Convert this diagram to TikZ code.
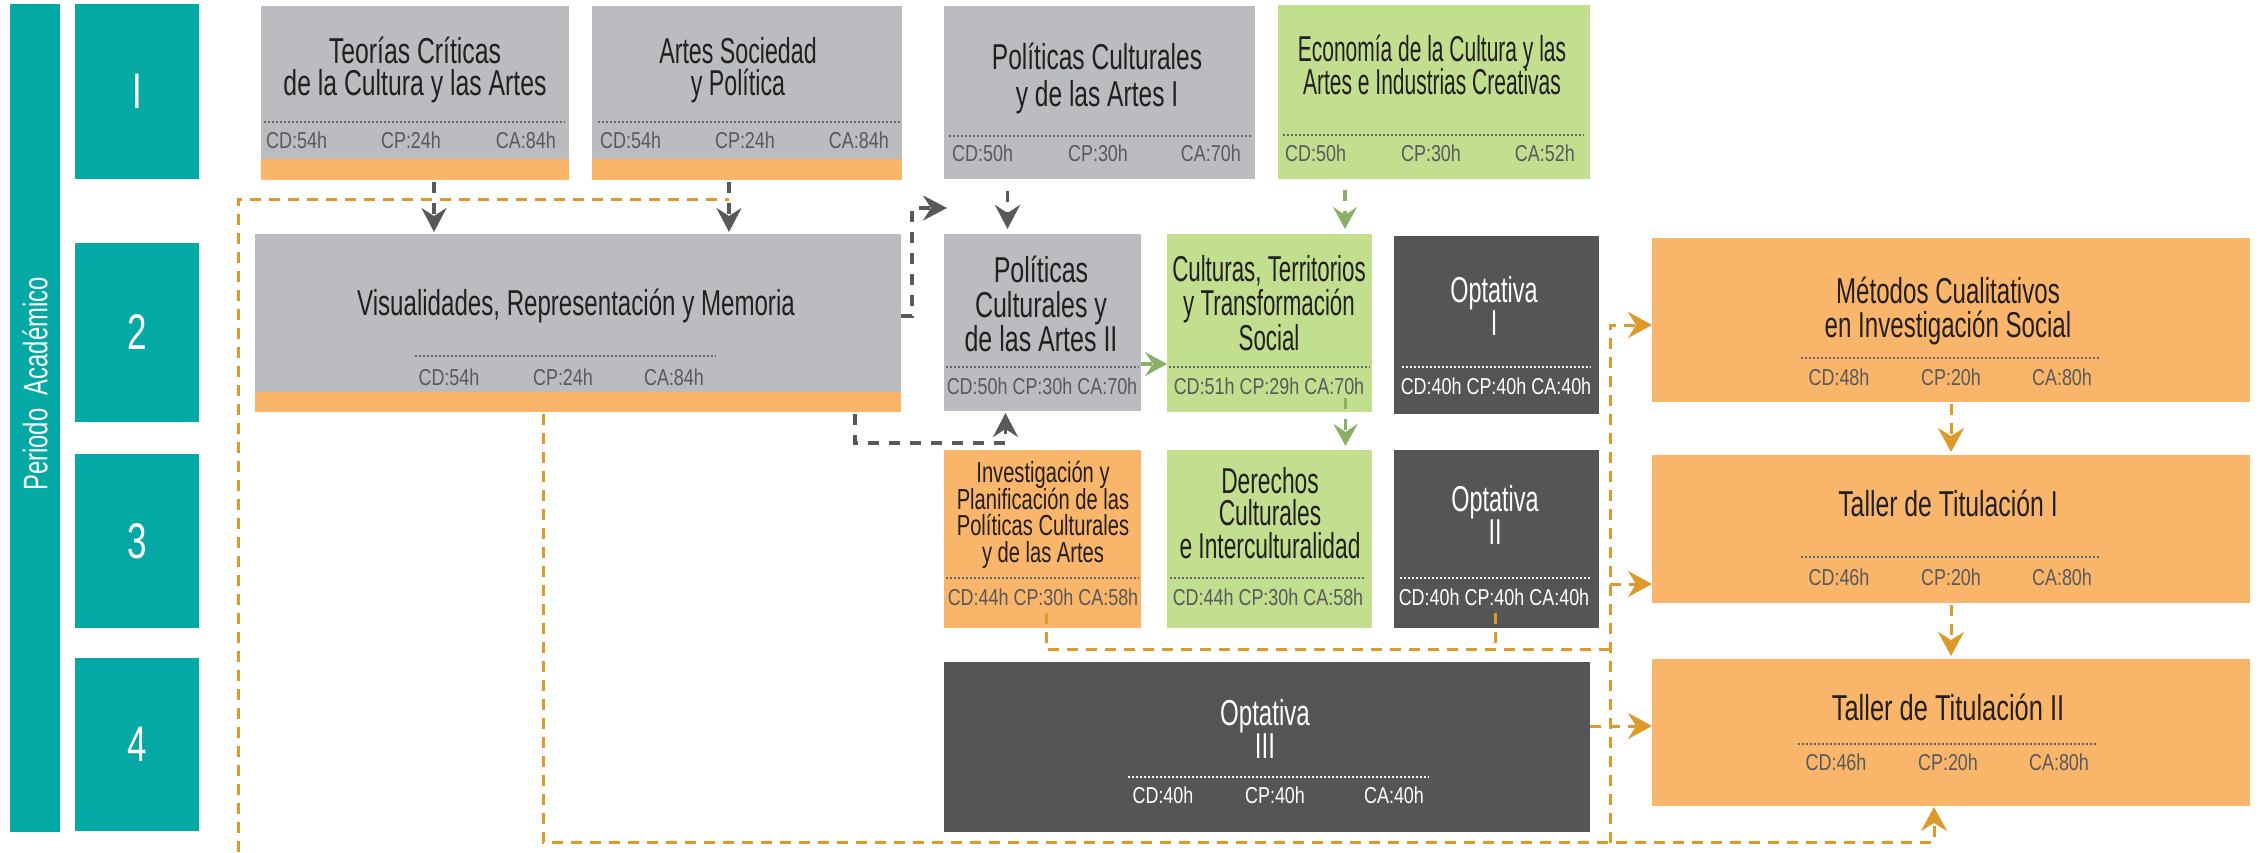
\documentclass[tikz,border=0pt]{standalone}
\usepackage{graphicx}
\usepackage{fontspec}
\setmainfont{Liberation Sans}
\newfontfamily\tfont[FakeStretch=0.62]{Liberation Sans}
\newfontfamily\nfont[FakeStretch=0.70]{Liberation Sans}
\newfontfamily\cdfont[FakeStretch=0.78]{Liberation Sans}
\newcommand\hsc[2]{\scalebox{#1}[1]{\vbox{\lineskiplimit=-200pt\relax\let\\\cr\halign{\hfil##\hfil\cr#2\crcr}}}}
\usetikzlibrary{arrows.meta,calc}
\definecolor{cteal}{RGB}{4,169,166}
\definecolor{cgray}{RGB}{187,188,192}
\definecolor{corange}{RGB}{249,181,106}
\definecolor{cgreen}{RGB}{194,222,143}
\definecolor{cdark}{RGB}{84,85,87}
\definecolor{cline}{RGB}{221,154,42}
\definecolor{carr}{RGB}{88,89,91}
\definecolor{cgrarr}{RGB}{139,175,102}
\definecolor{ctext}{RGB}{35,31,32}
\definecolor{ccd}{RGB}{88,89,91}
\definecolor{cdot}{RGB}{100,101,104}
\begin{document}
\begin{tikzpicture}[x=1pt,y=-1pt,
  bx/.style={rectangle, inner sep=0pt, outer sep=0pt, anchor=north west, draw=none},
  ttl/.style={font=\tfont\fontsize{36}{32.5}\selectfont, text=ctext, inner sep=0pt},
  ttlm/.style={font=\tfont\fontsize{36}{34.5}\selectfont, text=ctext, inner sep=0pt},
  ttlb/.style={font=\tfont\fontsize{36}{37}\selectfont, text=ctext, inner sep=0pt},
  ttls/.style={font=\tfont\fontsize{29}{26.5}\selectfont, text=ctext, inner sep=0pt},
  ttlw/.style={ttl, text=white},
  num/.style={font=\nfont\fontsize{50}{50}\selectfont, text=white, inner sep=0pt},
  cdt/.style={font=\cdfont\fontsize{23}{24}\selectfont, text=ccd, inner sep=0pt},
  cdw/.style={cdt, text=white},
  dotl/.style={draw=cdot, line width=2pt, dash pattern=on 2pt off 2pt},
  dotw/.style={dotl, draw=white},
  odash/.style={draw=cline, line width=3pt, dash pattern=on 11pt off 8pt},
  oarr/.style={odash, -{Stealth[length=24pt,width=26pt,inset=8pt]}},
  garr/.style={draw=carr, line width=3.5pt, dash pattern=on 11pt off 10pt, -{Stealth[length=24pt,width=25pt,inset=8pt]}},
  grarr/.style={draw=cgrarr, line width=3.5pt, dash pattern=on 11pt off 10pt, -{Stealth[length=22pt,width=24pt,inset=8pt]}}
]
\useasboundingbox (0,0) rectangle (2259,852);

% period column
\node[bx, fill=cteal, minimum width=50pt, minimum height=828pt] (bar) at (10,4) {};
\node[rotate=90, font=\nfont\fontsize{34}{34}\selectfont, text=white, inner sep=0pt] at (bar.center |- 0,384) {Periodo\hspace{0.4em}Académico};
\node[bx, fill=cteal, minimum width=124pt, minimum height=175pt] (n1) at (75,4) {};
\node[bx, fill=cteal, minimum width=124pt, minimum height=179pt] (n2) at (75,243) {};
\node[bx, fill=cteal, minimum width=124pt, minimum height=174pt] (n3) at (75,454) {};
\node[bx, fill=cteal, minimum width=124pt, minimum height=173pt] (n4) at (75,658) {};
\node[num] at (n1) {I};
\node[num] at (n2) {2};
\node[num] at (n3) {3};
\node[num] at (n4) {4};

% boxes
\node[bx, fill=cgray, minimum width=308pt, minimum height=174pt] (teo) at (261,6) {};
\node[bx, fill=cgray, minimum width=310pt, minimum height=174pt] (art) at (592,6) {};
\node[bx, fill=cgray, minimum width=311pt, minimum height=173pt] (pol1) at (944,6) {};
\node[bx, fill=cgreen, minimum width=312pt, minimum height=174pt] (eco) at (1278,5) {};
\node[bx, fill=cgray, minimum width=646pt, minimum height=178pt] (vis) at (255,234) {};
\node[bx, fill=cgray, minimum width=197pt, minimum height=177pt] (pol2) at (944,234) {};
\node[bx, fill=cgreen, minimum width=205pt, minimum height=178pt] (cul) at (1167,234) {};
\node[bx, fill=cdark, minimum width=205pt, minimum height=178pt] (opt1) at (1394,236) {};
\node[bx, fill=corange, minimum width=598pt, minimum height=164pt] (met) at (1652,238) {};
\node[bx, fill=corange, minimum width=197pt, minimum height=178pt] (inv) at (944,450) {};
\node[bx, fill=cgreen, minimum width=205pt, minimum height=178pt] (der) at (1167,450) {};
\node[bx, fill=cdark, minimum width=205pt, minimum height=178pt] (opt2) at (1394,450) {};
\node[bx, fill=cdark, minimum width=646pt, minimum height=170pt] (opt3) at (944,662) {};
\node[bx, fill=corange, minimum width=598pt, minimum height=148pt] (tal1) at (1652,455) {};
\node[bx, fill=corange, minimum width=598pt, minimum height=147pt] (tal2) at (1652,659) {};

% orange strips
\fill[corange] (teo.south west) rectangle ($(teo.south east)+(0,-21)$);
\fill[corange] (art.south west) rectangle ($(art.south east)+(0,-21)$);
\fill[corange] (vis.south west) rectangle ($(vis.south east)+(0,-20)$);

% titles
\node[ttl] at (415,70) {\hsc{1.11}{Teorías Críticas\\de la Cultura y las Artes}};
\node[ttl] at (738,70) {\hsc{1.04}{Artes Sociedad\\y Política}};
\node[ttlb] at (1097,78) {\hsc{1.10}{Políticas Culturales\\y de las Artes I}};
\node[ttl] at (1432,65) {\hsc{0.94}{Economía de la Cultura y las\\Artes e Industrias Creativas}};
\node[ttl] at (576,306) {\hsc{1.08}{Visualidades, Representación y Memoria}};
\node[ttlm] at (1041,304) {\hsc{1.12}{Políticas\\Culturales y\\de las Artes II}};
\node[ttlm] at (1269,303) {\hsc{1.0}{Culturas, Territorios\\y Transformación\\Social}};
\node[ttlw] at (1494,306) {\hsc{1.05}{Optativa\\I}};
\node[ttlm] at (1948,311) {\hsc{1.08}{Métodos Cualitativos\\en Investigación Social}};
\node[ttls] at (1043,515) {\hsc{1.12}{Investigación y\\Planificación de las\\Políticas Culturales\\y de las Artes}};
\node[ttl] at (1270,513) {\hsc{1.02}{Derechos\\Culturales\\e Interculturalidad}};
\node[ttlw] at (1495,515) {\hsc{1.05}{Optativa\\II}};
\node[ttlw] at (1265,729) {\hsc{1.08}{Optativa\\III}};
\node[ttl] at (1948,503) {\hsc{1.11}{Taller de Titulación I}};
\node[ttl] at (1948,707) {\hsc{1.14}{Taller de Titulación II}};

% dotted rules
\draw[dotl] (264,122) -- (565,122);
\draw[dotl] (598,122) -- (900,122);
\draw[dotl] (949,136) -- (1251,136);
\draw[dotl] (1283,135) -- (1584,135);
\draw[dotl] (415,356) -- (716,356);
\draw[dotl] (946,367) -- (1139,367);
\draw[dotl] (1169,367) -- (1370,367);
\draw[dotw] (1402,367) -- (1591,367);
\draw[dotl] (1801,358) -- (2099,358);
\draw[dotl] (946,578) -- (1139,578);
\draw[dotl] (1170,578) -- (1366,578);
\draw[dotw] (1400,578) -- (1590,578);
\draw[dotw] (1128,777) -- (1429,777);
\draw[dotl] (1801,557) -- (2099,557);
\draw[dotl] (1798,744) -- (2096,744);

% hours
\node[cdt, anchor=west] at (266,140) {CD:54h};
\node[cdt] at (411,140) {CP:24h};
\node[cdt, anchor=east] at (556,140) {CA:84h};
\node[cdt, anchor=west] at (600,140) {CD:54h};
\node[cdt] at (745,140) {CP:24h};
\node[cdt, anchor=east] at (889,140) {CA:84h};
\node[cdt, anchor=west] at (952,153) {CD:50h};
\node[cdt] at (1098,153) {CP:30h};
\node[cdt, anchor=east] at (1241,153) {CA:70h};
\node[cdt, anchor=west] at (1285,153) {CD:50h};
\node[cdt] at (1431,153) {CP:30h};
\node[cdt, anchor=east] at (1575,153) {CA:52h};
\node[cdt] at (449,377) {CD:54h};
\node[cdt] at (563,377) {CP:24h};
\node[cdt] at (674,377) {CA:84h};
\node[cdt] at (1042,386) {CD:50h CP:30h CA:70h};
\node[cdt] at (1269,386) {CD:51h CP:29h CA:70h};
\node[cdw] at (1496,386) {CD:40h CP:40h CA:40h};
\node[cdt] at (1839,377) {CD:48h};
\node[cdt] at (1951,377) {CP:20h};
\node[cdt] at (2062,377) {CA:80h};
\node[cdt] at (1043,597) {CD:44h CP:30h CA:58h};
\node[cdt] at (1268,597) {CD:44h CP:30h CA:58h};
\node[cdw] at (1494,597) {CD:40h CP:40h CA:40h};
\node[cdw] at (1163,795) {CD:40h};
\node[cdw] at (1275,795) {CP:40h};
\node[cdw] at (1394,795) {CA:40h};
\node[cdt] at (1839,577) {CD:46h};
\node[cdt] at (1951,577) {CP:20h};
\node[cdt] at (2062,577) {CA:80h};
\node[cdt] at (1836,762) {CD:46h};
\node[cdt] at (1948,762) {CP:20h};
\node[cdt] at (2059,762) {CA:80h};

% connector anchor points
\coordinate (t1) at ($(teo.south)+(19,2)$);
\coordinate (a1) at ($(art.south)+(-18,2)$);
\coordinate (p1) at ($(pol1.south)+(-92,12)$);
\coordinate (vr) at (947,208);
\coordinate (v2) at ($(vis.south)+(277,2)$);
\coordinate (v2top) at ($(pol2.south)+(-37,0)$);
\coordinate (e1) at ($(eco.south)+(-89,11)$);
\coordinate (pc) at ($(pol2.east)+(0,41.5)$);
\coordinate (cd) at ($(cul.south)+(76,-14)$);
\coordinate (lb) at (238,852);
\coordinate (lt) at (238,199);
\coordinate (vo) at ($(vis.south)+(-35,2)$);
\coordinate (t2b) at ($(tal2.south)+(-17,0)$);
\coordinate (iv) at ($(inv.south)+(3.5,-15)$);
\coordinate (o2) at ($(opt2.south)+(-1.5,-15)$);
\coordinate (j1) at (1610,649);
\coordinate (tr) at (1610,843);
\coordinate (mw) at ($(met.west)+(0,5)$);
\coordinate (t1w) at ($(tal1.west)+(0,55)$);
\coordinate (o3e) at ($(opt3.east)+(0,-21)$);

% gray connectors
\draw[garr, shorten >=2pt] (t1) -- (t1 |- vis.north);
\draw[garr, shorten >=2pt] (a1) -- (a1 |- vis.north);
\draw[garr, shorten >=5pt] (p1) -- (p1 |- pol2.north);
\draw[garr] ($(vis.east)+(0,-7)$) -- ++(11,0) |- (vr);
\draw[garr, shorten >=2pt] (v2) |- ($(v2top)+(0,32)$) -- (v2top);

% green connectors
\draw[grarr, shorten >=5pt] (e1) -- (e1 |- cul.north);
\draw[grarr] (pc) -- (pc -| cul.west);
\draw[grarr, shorten >=4pt] (cd) -- (cd |- der.north);

% orange connectors
\draw[odash] (lb) -- (lt) -- (lt -| a1);
\draw[oarr, shorten >=1pt] (vo) |- ($(t2b)+(0,36)$) -- (t2b);
\draw[odash] (iv) |- (j1);
\draw[odash] (o2) -- (o2 |- j1);
\draw[oarr] (tr) |- (mw);
\draw[oarr] (t1w -| tr) -- (t1w);
\draw[oarr] (o3e) -- (o3e -| tal2.west);
\draw[oarr, shorten >=3pt] ($(met.south)+(0,2)$) -- (tal1.north);
\draw[oarr, shorten >=3pt] ($(tal1.south)+(0,2)$) -- (tal2.north);
\end{tikzpicture}
\end{document}
